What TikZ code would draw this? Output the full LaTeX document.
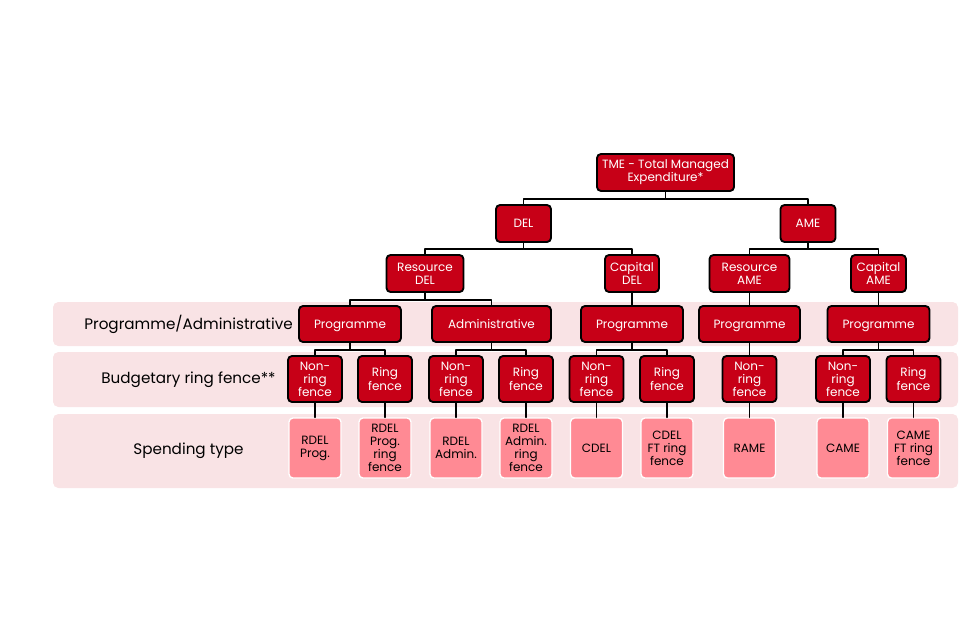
\documentclass[tikz,border=0pt]{standalone}
\usepackage{fontspec}
\setmainfont{Poppins}
\usepackage{tikz}
\usetikzlibrary{calc}
\definecolor{ccqq1a}{rgb}{0.78,0.,0.09}
\definecolor{ff8a93}{rgb}{1.,0.54,0.58}
\definecolor{f9e3e5}{rgb}{0.976,0.89,0.898}
\tikzstyle{every node}=[font=\fontsize{9}{9.8}\selectfont]
\begin{document}
\begin{tikzpicture}[line cap=round,line join=round,x=0.75pt,y=-0.75pt,
    redbox/.style={draw=black,line width=1.4pt,fill=ccqq1a,text=white,rounded corners=3pt,align=center,inner sep=0pt,minimum height=27.75pt},
    progbox/.style={redbox,minimum height=27pt,text depth=0pt},
    ringbox/.style={redbox,minimum width=40.5pt,minimum height=34.5pt},
    spendbox/.style={draw=white,line width=1pt,fill=ff8a93,text=black,rounded corners=3pt,align=center,inner sep=0pt,minimum width=39pt,minimum height=45pt},
    band/.style={fill=f9e3e5,rounded corners=4pt},
    rowlabel/.style={font=\fontsize{11.4}{13}\selectfont,text=black},
    link/.style={line width=1.2pt,color=black}]
\useasboundingbox (0,0) rectangle (960,640);
\fill [band] (53,302) rectangle (958,346);
\fill [band] (53,352) rectangle (958,407);
\fill [band] (53,414) rectangle (958,488);
\node [rowlabel] (lprog) at (188.5,324) {Programme/Administrative};
\node [rowlabel] (lring) at (188.5,380) {Budgetary ring fence**};
\node [rowlabel] (lspend) at (188.5,451) {Spending type};
\node [redbox,minimum width=102.75pt] (tme) at (665.5,172.5) {TME - Total Managed\\Expenditure*};
\node [redbox,minimum width=41.25pt] (del) at (523.5,223.5) {DEL};
\node [redbox,minimum width=41.25pt] (ame) at (808,223.5) {AME};
\node [redbox,minimum width=57.75pt] (rdel) at (425,273.5) {Resource\\DEL};
\node [redbox,minimum width=40.5pt] (cdel) at (632,273.5) {Capital\\DEL};
\node [redbox,minimum width=60pt] (rame) at (749.5,273.5) {Resource\\AME};
\node [redbox,minimum width=41.25pt] (came) at (878.5,273.5) {Capital\\AME};
\node [progbox,minimum width=76.5pt] (prog1) at (350,324) {Programme};
\node [progbox,minimum width=89.25pt] (admin) at (491.5,324) {Administrative};
\node [progbox,minimum width=76.5pt] (prog2) at (632,324) {Programme};
\node [progbox,minimum width=75.75pt] (prog3) at (749.5,324) {Programme};
\node [progbox,minimum width=76.5pt] (prog4) at (878.5,324) {Programme};
\node [ringbox] (nrf1) at (315,379) {Non-\\ring\\fence};
\node [ringbox] (rf1) at (385,379) {Ring\\fence};
\node [ringbox] (nrf2) at (456,379) {Non-\\ring\\fence};
\node [ringbox] (rf2) at (526,379) {Ring\\fence};
\node [ringbox] (nrf3) at (596.5,379) {Non-\\ring\\fence};
\node [ringbox] (rf3) at (667,379) {Ring\\fence};
\node [ringbox] (nrf4) at (749.5,379) {Non-\\ring\\fence};
\node [ringbox] (nrf5) at (843,379) {Non-\\ring\\fence};
\node [ringbox] (rf5) at (913.5,379) {Ring\\fence};
\node [spendbox] (sp1) at (315,448) {RDEL\\Prog.};
\node [spendbox] (sp2) at (385,448) {RDEL\\Prog.\\ring\\fence};
\node [spendbox] (sp3) at (456,448) {RDEL\\Admin.};
\node [spendbox] (sp4) at (526,448) {RDEL\\Admin.\\ring\\fence};
\node [spendbox] (sp5) at (596.5,448) {CDEL};
\node [spendbox] (sp6) at (667,448) {CDEL\\FT ring\\fence};
\node [spendbox] (sp7) at (749.5,448) {RAME};
\node [spendbox] (sp8) at (843,448) {CAME};
\node [spendbox] (sp9) at (913.5,448) {CAME\\FT ring\\fence};
\draw [link] (tme.south) -- ++(0,7) -| (del.north);
\draw [link] (tme.south) -- ++(0,7) -| (ame.north);
\draw [link] (del.south) -- ++(0,6) -| (rdel.north);
\draw [link] (del.south) -- ++(0,6) -| (cdel.north);
\draw [link] (ame.south) -- ++(0,6) -| (rame.north);
\draw [link] (ame.south) -- ++(0,6) -| (came.north);
\draw [link] (rdel.south) -- ++(0,7) -| (prog1.north);
\draw [link] (rdel.south) -- ++(0,7) -| (admin.north);
\draw [link] (cdel.south) -- (prog2.north);
\draw [link] (rame.south) -- (prog3.north);
\draw [link] (came.south) -- (prog4.north);
\draw [link] (prog1.south) -- ++(0,7) -| (nrf1.north);
\draw [link] (prog1.south) -- ++(0,7) -| (rf1.north);
\draw [link] (admin.south) -- ++(0,7) -| (nrf2.north);
\draw [link] (admin.south) -- ++(0,7) -| (rf2.north);
\draw [link] (prog2.south) -- ++(0,7) -| (nrf3.north);
\draw [link] (prog2.south) -- ++(0,7) -| (rf3.north);
\draw [link] (prog3.south) -- (nrf4.north);
\draw [link] (prog4.south) -- ++(0,7) -| (nrf5.north);
\draw [link] (prog4.south) -- ++(0,7) -| (rf5.north);
\draw [link] (nrf1.south) -- (sp1.north);
\draw [link] (rf1.south) -- (sp2.north);
\draw [link] (nrf2.south) -- (sp3.north);
\draw [link] (rf2.south) -- (sp4.north);
\draw [link] (nrf3.south) -- (sp5.north);
\draw [link] (rf3.south) -- (sp6.north);
\draw [link] (nrf4.south) -- (sp7.north);
\draw [link] (nrf5.south) -- (sp8.north);
\draw [link] (rf5.south) -- (sp9.north);
\end{tikzpicture}
\end{document}
